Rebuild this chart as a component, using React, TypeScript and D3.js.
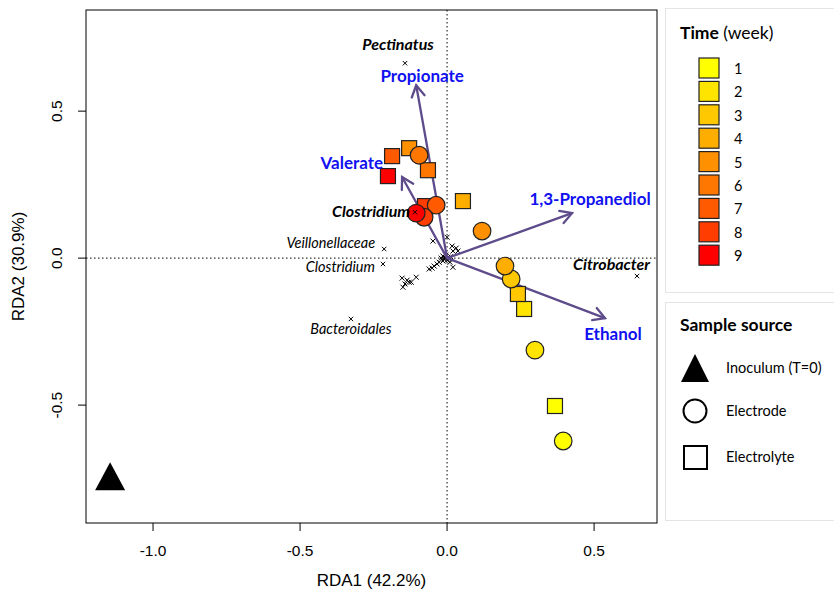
import React from "react";
import * as d3 from "d3";

const W = 834, H = 597;

const timeWeeks = [1, 2, 3, 4, 5, 6, 7, 8, 9];
const timeColors = ["#FFFF00", "#FFE400", "#FFC800", "#FFAE00", "#FF9100", "#FF7700", "#FF5A00", "#FF3D00", "#FF0000"];

// Electrode samples (circles), week 1..9
const electrodeX = [0.395, 0.299, 0.218, 0.197, 0.119, -0.095, -0.037, -0.078, -0.105];
const electrodeY = [-0.622, -0.313, -0.071, -0.027, 0.092, 0.350, 0.180, 0.139, 0.153];
// Electrolyte samples (squares), week 1..9
const electrolyteX = [0.367, 0.262, 0.241, 0.054, -0.129, -0.065, -0.187, -0.075, -0.201];
const electrolyteY = [-0.503, -0.173, -0.122, 0.194, 0.374, 0.299, 0.347, 0.177, 0.279];
// Inoculum
const inoculumX = [-1.146];
const inoculumY = [-0.745];

// Environmental vectors
const envNames = ["Propionate", "Valerate", "1,3-Propanediol", "Ethanol"];
const envX = [-0.105, -0.153, 0.425, 0.537];
const envY = [0.588, 0.276, 0.153, -0.204];

// Labelled species
const spNames = ["Pectinatus", "Clostridium", "Veillonellaceae", "Clostridium", "Bacteroidales", "Citrobacter"];
const spX = [-0.143, -0.109, -0.214, -0.218, -0.327, 0.646];
const spY = [0.663, 0.156, 0.031, -0.020, -0.207, -0.061];
const spBold = [true, true, false, false, false, true];

// Unlabelled species
const otherX = [-0.048, 0.0, 0.017, 0.031, 0.020, 0.037, -0.014, -0.020, -0.007, 0.003, 0.0, -0.014, -0.027, -0.034, -0.044, -0.051, -0.061, 0.010, 0.020, 0.007, -0.153, -0.129, -0.105, -0.143, -0.150, -0.136, -0.122, -0.004, 0.012, -0.010];
const otherY = [0.058, 0.071, 0.041, 0.034, 0.024, 0.024, 0.007, 0.0, 0.0, 0.003, -0.007, -0.010, -0.014, -0.020, -0.027, -0.034, -0.037, -0.014, -0.031, -0.003, -0.068, -0.082, -0.065, -0.088, -0.099, -0.075, -0.082, 0.010, 0.005, -0.004];

const xTicks = [-1.0, -0.5, 0.0, 0.5];
const yTicks = [-0.5, 0.0, 0.5];

const left = 86, right = 657, top = 10, bottom = 523;
const xs = d3.scaleLinear().domain([-1.228, 0.714]).range([left, right]);
const ys = d3.scaleLinear().domain([0.844, -0.901]).range([top, bottom]);

const ARROW = "#5E4B8B";
const BLUE = "#1010F0";
const SANS = "'Liberation Sans', Arial, sans-serif";
const CAL = "Lato, 'Open Sans', sans-serif";

// label placement styles (pixel offsets from mark)
const envLabel = [
  { dx: 6, dy: -3, anchor: "middle" },
  { dx: -19, dy: -8, anchor: "end" },
  { dx: 18, dy: -8, anchor: "middle" },
  { dx: 8, dy: 22, anchor: "middle" },
];
const spLabel = [
  { dx: -7, dy: -13, anchor: "middle" },
  { dx: -5, dy: 5, anchor: "end" },
  { dx: -9, dy: -1, anchor: "end" },
  { dx: -8, dy: 8, anchor: "end" },
  { dx: 0, dy: 15, anchor: "middle" },
  { dx: 13, dy: -6, anchor: "end" },
];

function Cross({ x, y, s = 2.5, w = 1 }: { x: number; y: number; s?: number; w?: number }) {
  return (
    <g stroke="#000" strokeWidth={w}>
      <line x1={x - s} y1={y - s} x2={x + s} y2={y + s} />
      <line x1={x - s} y1={y + s} x2={x + s} y2={y - s} />
    </g>
  );
}

export default function App() {
  const x0 = xs(0), y0 = ys(0);
  return (
    <svg width={W} height={H} style={{ position: "absolute", left: 0, top: 0, background: "#fff" }}>
      <rect x={0} y={0} width={W} height={H} fill="#fff" />
      {/* zero lines */}
      <line x1={x0} x2={x0} y1={top} y2={bottom} stroke="#000" strokeDasharray="1.5,2.5" strokeWidth={1} />
      <line x1={left} x2={right} y1={y0} y2={y0} stroke="#000" strokeDasharray="1.5,2.5" strokeWidth={1} />

      {/* unlabelled species */}
      {otherX.map((v, i) => (
        <Cross key={"o" + i} x={xs(v)} y={ys(otherY[i])} />
      ))}

      {/* arrows */}
      {envX.map((v, i) => {
        const tx = xs(v), ty = ys(envY[i]);
        const ang = Math.atan2(ty - y0, tx - x0);
        const L = 13, a = Math.PI / 6;
        const p1 = [tx - L * Math.cos(ang - a), ty - L * Math.sin(ang - a)];
        const p2 = [tx - L * Math.cos(ang + a), ty - L * Math.sin(ang + a)];
        return (
          <g key={"a" + i} stroke={ARROW} strokeWidth={2.3} fill="none" strokeLinecap="round">
            <line x1={x0} y1={y0} x2={tx} y2={ty} />
            <polyline points={`${p1[0]},${p1[1]} ${tx},${ty} ${p2[0]},${p2[1]}`} />
          </g>
        );
      })}

      {/* samples: squares */}
      {electrolyteX.map((v, i) => (
        <rect key={"s" + i} x={xs(v) - 7.5} y={ys(electrolyteY[i]) - 7.5} width={15} height={15}
          fill={timeColors[i]} stroke="#222" strokeWidth={1.2} />
      ))}
      {/* samples: circles */}
      {electrodeX.map((v, i) => (
        <circle key={"c" + i} cx={xs(v)} cy={ys(electrodeY[i])} r={8.8}
          fill={timeColors[i]} stroke="#222" strokeWidth={1.2} />
      ))}
      {/* inoculum */}
      {inoculumX.map((v, i) => {
        const cx = xs(v), cy = ys(inoculumY[i]);
        return <path key={"t" + i} d={`M${cx},${cy - 15} L${cx + 15},${cy + 13} L${cx - 15},${cy + 13} Z`} fill="#000" />;
      })}

      {/* labelled species */}
      {spX.map((v, i) => {
        const cx = xs(v), cy = ys(spY[i]);
        const st = spLabel[i];
        return (
          <g key={"sp" + i}>
            <Cross x={cx} y={cy} s={2.2} />
            <text x={cx + st.dx} y={cy + st.dy} textAnchor={st.anchor as any} fontFamily={CAL}
              fontStyle="italic" fontWeight={spBold[i] ? 700 : 400} fontSize={spBold[i] ? 16 : 14.5} fill="#000">
              {spNames[i]}
            </text>
          </g>
        );
      })}

      {/* env labels */}
      {envX.map((v, i) => {
        const tx = xs(v), ty = ys(envY[i]);
        const st = envLabel[i];
        return (
          <text key={"el" + i} x={tx + st.dx} y={ty + st.dy} textAnchor={st.anchor as any} fontFamily={CAL}
            fontWeight={700} fontSize={17} fill={BLUE}>
            {envNames[i]}
          </text>
        );
      })}

      {/* box */}
      <rect x={left} y={top} width={right - left} height={bottom - top} fill="none" stroke="#000" strokeWidth={1} />

      {/* x axis */}
      {xTicks.map((t) => (
        <g key={"xt" + t}>
          <line x1={xs(t)} x2={xs(t)} y1={bottom} y2={bottom + 8} stroke="#000" />
          <text x={xs(t)} y={bottom + 33} textAnchor="middle" fontFamily={SANS} fontSize={15.5}>
            {t.toFixed(1)}
          </text>
        </g>
      ))}
      {yTicks.map((t) => (
        <g key={"yt" + t}>
          <line x1={left - 8} x2={left} y1={ys(t)} y2={ys(t)} stroke="#000" />
          <text transform={`translate(${left - 24},${ys(t)}) rotate(-90)`} textAnchor="middle" fontFamily={SANS} fontSize={15.5}>
            {t.toFixed(1)}
          </text>
        </g>
      ))}
      <text x={(left + right) / 2} y={586} textAnchor="middle" fontFamily={SANS} fontSize={17}>RDA1 (42.2%)</text>
      <text transform={`translate(24,${(top + bottom) / 2}) rotate(-90)`} textAnchor="middle" fontFamily={SANS} fontSize={17}>RDA2 (30.9%)</text>

      {/* legend 1 */}
      <rect x={665.5} y={8.5} width={180} height={284} fill="#fff" stroke="#c8c8c8" strokeDasharray="1,1" />
      <text x={680} y={39} fontFamily={CAL} fontSize={17.5} fill="#000">
        <tspan fontWeight={700}>Time</tspan> (week)
      </text>
      {timeWeeks.map((wk, i) => (
        <g key={"lg" + wk}>
          <rect x={699} y={58 + i * 23.4} width={20} height={20} fill={timeColors[i]} stroke="#222" strokeWidth={1.2} />
          <text x={734} y={74 + i * 23.4} fontFamily={CAL} fontSize={14.5}>{wk}</text>
        </g>
      ))}

      {/* legend 2 */}
      <rect x={665.5} y={302.5} width={180} height={218} fill="#fff" stroke="#c8c8c8" strokeDasharray="1,1" />
      <text x={680} y={331} fontFamily={CAL} fontSize={17.5} fontWeight={700}>Sample source</text>
      <path d="M695,354 L709,382 L681,382 Z" fill="#000" />
      <text x={726} y={373} fontFamily={CAL} fontSize={14.5}>Inoculum (T=0)</text>
      <circle cx={695} cy={411} r={11.5} fill="#fff" stroke="#000" strokeWidth={2} />
      <text x={726} y={416} fontFamily={CAL} fontSize={14.5}>Electrode</text>
      <rect x={684} y={446} width={23} height={23} fill="#fff" stroke="#000" strokeWidth={2} />
      <text x={726} y={462} fontFamily={CAL} fontSize={14.5}>Electrolyte</text>
    </svg>
  );
}
